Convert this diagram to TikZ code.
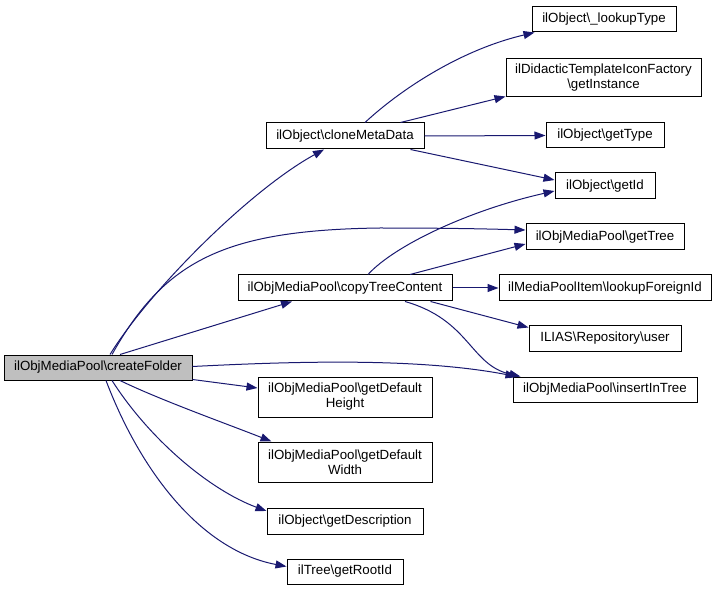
\documentclass[tikz,border=0pt]{standalone}
\usepackage{fontspec}
\setmainfont{Liberation Sans}
\usetikzlibrary{arrows.meta,calc}
\definecolor{edgecol}{HTML}{191970}
\definecolor{selfill}{HTML}{BFBFBF}
\begin{document}
\begin{tikzpicture}[x=1pt,y=-1pt,
  box/.style={draw=black, line width=1pt, inner sep=0pt, fill=white,
    font=\fontsize{13.3}{15}\selectfont, align=center},
  e/.style={draw=edgecol, line width=1pt, -{Triangle[length=11pt,width=8pt]}}]
\useasboundingbox (0,0) rectangle (716,591);
% nodes
\node[box, fill=selfill, minimum width=188, minimum height=25] (cf) at (98,367.5) {ilObjMediaPool\textbackslash createFolder};
\node[box, minimum width=158, minimum height=26] (cmd) at (345,136) {ilObject\textbackslash cloneMetaData};
\node[box, minimum width=144, minimum height=25] (lt) at (604,19.5) {ilObject\textbackslash \_lookupType};
\node[box, minimum width=195, minimum height=38] (gi) at (603.5,78) {ilDidacticTemplateIconFactory\\\textbackslash getInstance};
\node[box, minimum width=118, minimum height=25] (gt) at (605,135.5) {ilObject\textbackslash getType};
\node[box, minimum width=100, minimum height=26] (gid) at (605,186) {ilObject\textbackslash getId};
\node[box, minimum width=158, minimum height=26] (gtree) at (605,237) {ilObjMediaPool\textbackslash getTree};
\node[box, minimum width=212, minimum height=26] (lfi) at (605,288) {ilMediaPoolItem\textbackslash lookupForeignId};
\node[box, minimum width=152, minimum height=25] (user) at (605,338.5) {ILIAS\textbackslash Repository\textbackslash user};
\node[box, minimum width=184, minimum height=25] (iit) at (605,389.5) {ilObjMediaPool\textbackslash insertInTree};
\node[box, minimum width=214, minimum height=26] (ctc) at (345,288) {ilObjMediaPool\textbackslash copyTreeContent};
\node[box, minimum width=174, minimum height=40] (gdh) at (345,397) {ilObjMediaPool\textbackslash getDefault\\Height};
\node[box, minimum width=174, minimum height=40] (gdw) at (345,462) {ilObjMediaPool\textbackslash getDefault\\Width};
\node[box, minimum width=156, minimum height=26] (gd) at (345,521) {ilObject\textbackslash getDescription};
\node[box, minimum width=116, minimum height=25] (gri) at (345,571.5) {ilTree\textbackslash getRootId};
% edges from createFolder
\draw[e] ($(cf.north)+(12,0)$) .. controls (150,290) and (250,190) .. ($(cmd.south)+(-21,0)$);
\draw[e] ($(cf.north)+(14,0)$) .. controls (165,260) and (225,230) .. (380,228) .. controls (450,228) and (490,229) .. ($(gtree.west)+(0,-7)$);
\draw[e] ($(cf.north)+(22,0)$) -- ($(ctc.south)+(-53,0)$);
\draw[e] ($(cf.east)+(0,-1)$) .. controls (300,361) and (420,358) .. ($(iit.north west)+(4,0)$);
\draw[e] ($(cf.south east)+(0,-1)$) -- ($(gdh.west)+(0,-9)$);
\draw[e] ($(cf.south)+(22,0)$) .. controls (160,400) and (230,425) .. ($(gdw.north west)+(14,0)$);
\draw[e] ($(cf.south)+(14,0)$) .. controls (150,440) and (210,490) .. ($(gd.west)+(0,-10)$);
\draw[e] ($(cf.south)+(8,0)$) .. controls (140,470) and (200,550) .. ($(gri.west)+(0,-5)$);
% edges from cloneMetaData
\draw[e] ($(cmd.north)+(20,0)$) .. controls (400,90) and (460,50) .. ($(lt.south west)+(3,0)$);
\draw[e] ($(cmd.north east)+(-24,0)$) -- ($(gi.south west)+(0,-1)$);
\draw[e] (cmd.east) -- (gt.west);
\draw[e] ($(cmd.south east)+(-14,0)$) -- ($(gid.west)+(0,-6)$);
% edges from copyTreeContent
\draw[e] ($(ctc.north)+(23,0)$) .. controls (395,245) and (470,210) .. ($(gid.west)+(0,5)$);
\draw[e] ($(ctc.north)+(65,0)$) -- ($(gtree.west)+(0,7)$);
\draw[e] (ctc.east) -- (lfi.west);
\draw[e] ($(ctc.south east)+(-22,0)$) -- ($(user.west)+(0,-11)$);
\draw[e] ($(ctc.south)+(60,0)$) .. controls (470,320) and (470,365) .. ($(iit.north west)+(8,0)$);
\end{tikzpicture}
\end{document}
